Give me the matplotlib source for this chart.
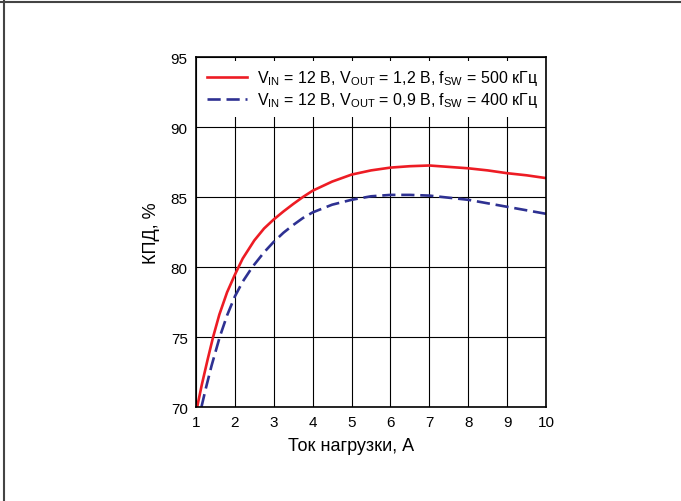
import matplotlib
matplotlib.use('Agg')
import matplotlib.pyplot as plt
from matplotlib.lines import Line2D

plt.rcParams['font.family'] = ['Liberation Sans', 'DejaVu Sans']
plt.rcParams['mathtext.fontset'] = 'custom'
plt.rcParams['mathtext.rm'] = 'Liberation Sans'

# КПД при 1,2 В / 500 кГц
i_red = [1.03, 1.15, 1.3, 1.44, 1.6, 1.8, 2.0, 2.2, 2.5, 2.75, 3.0, 3.25, 3.5, 3.75,
         4.0, 4.5, 5.0, 5.5, 6.0, 6.5, 7.0, 7.5, 8.0, 8.5, 9.0, 9.5, 10.0]
eff_red = [70.0, 71.6, 73.4, 75.0, 76.6, 78.2, 79.45, 80.6, 81.9, 82.75, 83.4, 83.97, 84.5, 85.0,
           85.45, 86.1, 86.6, 86.9, 87.1, 87.2, 87.25, 87.15, 87.05, 86.9, 86.7, 86.55, 86.35]

# КПД при 0,9 В / 400 кГц
i_blue = [1.14, 1.25, 1.4, 1.61, 1.8, 2.0, 2.2, 2.45, 2.75, 3.0, 3.25, 3.5, 3.75,
          4.0, 4.5, 5.0, 5.5, 6.0, 6.5, 7.0, 7.5, 8.0, 8.5, 9.0, 9.5, 10.0]
eff_blue = [70.0, 71.3, 72.95, 75.0, 76.55, 77.9, 78.95, 80.0, 81.05, 81.8, 82.45, 83.0, 83.5,
            83.9, 84.45, 84.8, 85.05, 85.15, 85.15, 85.1, 84.95, 84.8, 84.55, 84.3, 84.05, 83.8]

labels = [r'V$_{\mathregular{IN}}$ = 12 В, V$_{\mathregular{OUT}}$ = 1,2 В, f$_{\mathregular{SW}}$ = 500 кГц',
          r'V$_{\mathregular{IN}}$ = 12 В, V$_{\mathregular{OUT}}$ = 0,9 В, f$_{\mathregular{SW}}$ = 400 кГц']

fig = plt.figure(figsize=(6.81, 5.02), dpi=100)
ax = fig.add_axes([196 / 681, 1 - 408 / 502, 350 / 681, 350 / 502])

ax.plot(i_red, eff_red, color='#ed1c24', lw=1.9, label=labels[0])
ax.plot(i_blue, eff_blue, color='#2e3192', lw=1.9, dashes=(5, 2.2), label=labels[1])

ax.set_xlim(1, 10)
ax.set_ylim(70, 95)
ax.set_xticks(range(1, 11))
ax.set_yticks(range(70, 96, 5))
ax.grid(True, color='black', lw=0.8)
ax.set_axisbelow(True)
ax.tick_params(length=0, labelsize=11, pad=6)
for s in ax.spines.values():
    s.set_linewidth(1.2)

ax.set_xlabel('Ток нагрузки, А', fontsize=13, labelpad=4)
ax.xaxis.set_label_coords(0.443, -0.085)
ax.set_ylabel('КПД, %', fontsize=13, labelpad=8)

leg = ax.legend(loc='upper left', fontsize=11.5, frameon=True, fancybox=False,
                borderaxespad=0.25, handlelength=2.5, handletextpad=0.65,
                labelspacing=0.2, borderpad=0.45)
leg.get_frame().set_edgecolor('none')
leg.get_frame().set_facecolor('white')
leg.get_frame().set_alpha(1)

# рамка рисунка
fig.add_artist(Line2D([0, 1], [1 - 2.5 / 502, 1 - 2.5 / 502], color='#444444', lw=1.5))
fig.add_artist(Line2D([3.5 / 681, 3.5 / 681], [0, 1], color='#444444', lw=1.5))

fig.savefig('out.png', dpi=100)
